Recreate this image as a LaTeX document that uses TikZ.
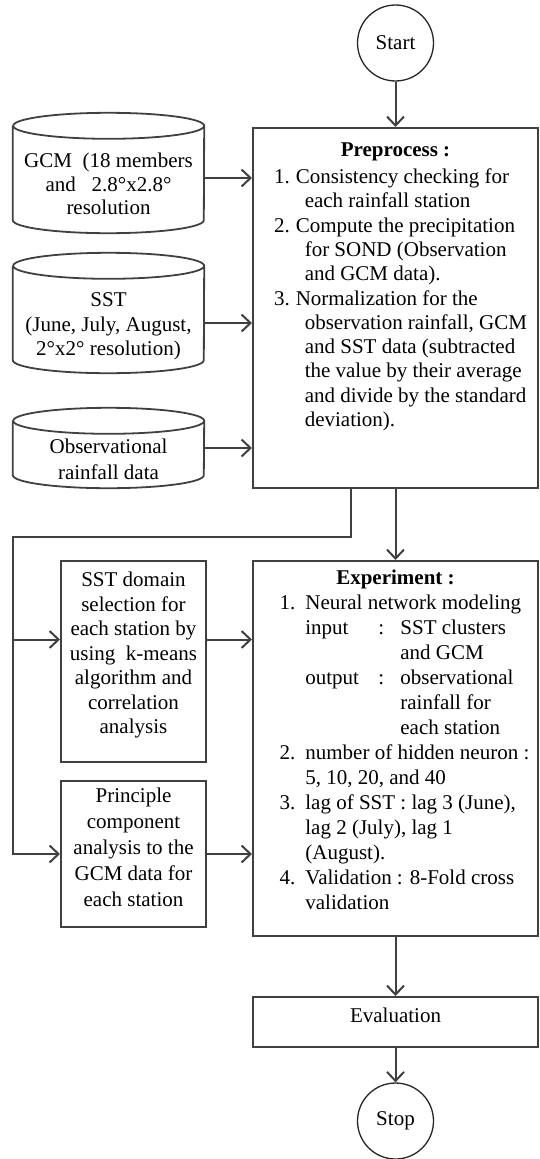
\documentclass[tikz,border=0pt]{standalone}
\usepackage{fontspec}
\setmainfont{Liberation Serif}
\usetikzlibrary{arrows.meta}

\newcommand{\flowfont}[1][24.5]{\fontsize{21}{#1}\selectfont}
% text block lowered below the node centre
\newcommand{\droptext}[2]{\raisebox{-#1}[0pt][0pt]{\begin{tabular}[b]{@{}c@{}}#2\end{tabular}}}

\tikzset{
    flowline/.style={draw=black!75, line width=2pt},
    flowarrow/.style={flowline, -{Straight Barb[length=9pt,width=17pt,line width=2pt]}},
    procbox/.style={rectangle, draw=black!75, line width=2pt, inner sep=0pt, align=center, font=\flowfont},
    % drum outline drawn round a plain node
    datastore/.style={rectangle, minimum width=191pt, inner sep=0pt, font=\flowfont,
        append after command={\pgfextra{%
            \draw[draw=black!75, line width=1.8pt]
                ([yshift=-13pt]\tikzlastnode.north west) -- ([yshift=13pt]\tikzlastnode.south west)
                arc[start angle=180, end angle=360, x radius=95.5pt, y radius=13pt]
                -- ([yshift=-13pt]\tikzlastnode.north east)
                arc[start angle=0, end angle=360, x radius=95.5pt, y radius=13pt];}}},
    terminal/.style={circle, draw=black!85, line width=1.3pt, minimum size=76pt, inner sep=0pt, font=\flowfont}
}

\begin{document}
\begin{tikzpicture}[x=1pt, y=-1pt]
    \useasboundingbox (0,0) rectangle (540,1159);

    % Start and stop
    \node[terminal] (start) at (395.5,43) {Start};
    \node[terminal] (stop) at (395.5,1121) {Stop};

    % Input data on the left
    \node[datastore, minimum height=120pt, font={\flowfont[23.5]}] (gcm) at (108.5,173)
        {\droptext{41.5pt}{GCM\ \ (18 members\\and\ \ \ 2.8°x2.8°\\resolution}};
    \node[datastore, minimum height=120pt] (sst) at (108.5,313)
        {\droptext{42.5pt}{SST\\(June, July, August,\\2°x2° resolution)}};
    \node[datastore, minimum height=80pt, font={\flowfont[26]}] (obs) at (108.5,448)
        {\droptext{31.5pt}{Observational\\rainfall data}};

    % Preprocess box
    \node[procbox, minimum width=285pt, minimum height=360pt, text height=14pt, text depth=317pt, font={\flowfont[24.3]}] (prep) at (395.5,308) {%
        \begin{tabular}[t]{@{\hspace{10pt}}r@{\hspace{6pt}}l@{}}
        \multicolumn{2}{c}{\textbf{Preprocess :}}\\[2.7pt]
        1. & Consistency checking for\\
           & \hspace{9pt}each rainfall station\\
        2. & Compute the precipitation\\
           & \hspace{9pt}for SOND (Observation\\
           & \hspace{9pt}and GCM data).\\
        3. & Normalization for the\\
           & \hspace{9pt}observation rainfall, GCM\\
           & \hspace{9pt}and SST data (subtracted\\
           & \hspace{9pt}the value by their average\\
           & \hspace{9pt}and divide by the standard\\
           & \hspace{9pt}deviation).
        \end{tabular}};

    % Side steps before the experiment
    \node[procbox, minimum width=145pt, minimum height=201pt, text height=150pt, text depth=6pt] (domain) at (133.5,661.5)
        {SST domain\\selection for\\each station by\\using\ \ k-means\\algorithm and\\correlation\\analysis};
    \node[procbox, minimum width=145pt, minimum height=146pt, text height=110pt, text depth=5pt, font={\flowfont[26]}] (pca) at (133.5,854)
        {Principle\\component\\analysis to the\\GCM data for\\each station};

    % Experiment box
    \node[procbox, minimum width=285pt, minimum height=375pt, text height=14pt, text depth=342pt, font={\flowfont[25]}] (expt) at (395.5,748.5) {%
        \begin{tabular}[t]{@{\hspace{18pt}}r@{\hspace{10pt}}l@{}}
        \multicolumn{2}{c}{\textbf{Experiment :}}\\
        1. & Neural network modeling\\
           & \makebox[73pt][l]{input}\makebox[22pt][l]{:}SST clusters\\
           & \hspace{95pt}and GCM\\
           & \makebox[73pt][l]{output}\makebox[22pt][l]{:}observational\\
           & \hspace{95pt}rainfall for\\
           & \hspace{95pt}each station\\
        2. & number of hidden neuron :\\
           & 5, 10, 20, and 40\\
        3. & lag of SST : lag 3 (June),\\
           & lag 2 (July), lag 1\\
           & (August).\\
        4. & Validation : 8-Fold cross\\
           & validation
        \end{tabular}};

    \node[procbox, minimum width=285pt, minimum height=50pt, text height=10pt, text depth=9pt] (eval) at (395.5,1022) {Evaluation};

    % Main flow
    \draw[flowarrow] ([yshift=-5pt]gcm.east) -- ([yshift=-5pt]gcm.east -| prep.west);
    \draw[flowarrow] ([yshift=-10pt]sst.east) -- ([yshift=-10pt]sst.east -| prep.west);
    \draw[flowarrow] (obs.east) -- (obs.east -| prep.west);
    \draw[flowarrow] (start) -- (prep);
    \draw[flowarrow] (prep) -- (expt);
    \draw[flowarrow] (expt) -- (eval);
    \draw[flowarrow] (eval) -- (stop);

    % Branch round the left side
    \coordinate (rail) at (13,537);
    \path ([yshift=22pt]domain.west) coordinate (domin);
    \draw[flowarrow] ([xshift=-45pt]prep.south) |- (rail) |- (pca.west);
    \draw[flowarrow] (rail |- domin) -- (domin);
    \draw[flowarrow] (domin -| domain.east) -- (domin -| expt.west);
    \draw[flowarrow] (pca.east) -- (pca.east -| expt.west);
\end{tikzpicture}
\end{document}
